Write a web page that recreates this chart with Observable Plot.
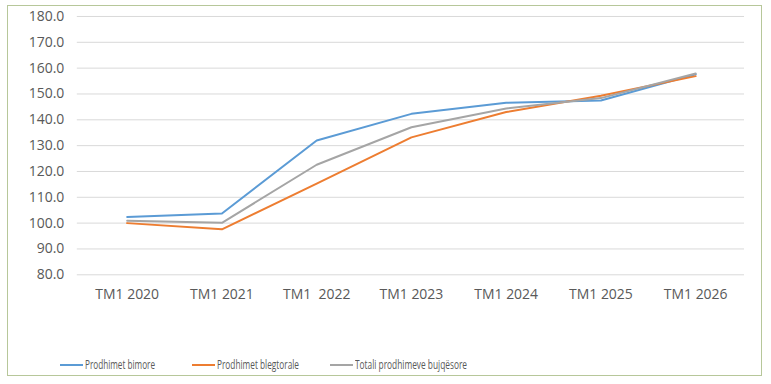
<!DOCTYPE html>
<html>
<head>
<meta charset="utf-8">
<script src="https://cdn.jsdelivr.net/npm/d3@7"></script>
<script src="https://cdn.jsdelivr.net/npm/@observablehq/plot@0.6"></script>
<style>
  body { margin: 0; background: #fff; width: 771px; height: 384px; overflow: hidden; }
  #frame { position: absolute; left: 7px; top: 5px; width: 755px; height: 371px; border: 1px solid #b7c79a; box-sizing: border-box; background: #fff; }
  #chart { position: absolute; left: 0; top: 0; }
  #legend { position: absolute; left: 0; top: 350px; width: 755px; height: 20px; font-family: "Open Sans", sans-serif; font-size: 13px; color: #595959; }
  .item { position: absolute; top: 0; height: 16px; }
  .swatch { position: absolute; left: 0; top: 8px; width: 23px; height: 2px; }
  .label { position: absolute; left: 25px; top: 0; white-space: nowrap; transform-origin: 0 50%; line-height: 16px; }
</style>
</head>
<body>
<div id="frame">
  <div id="chart"></div>
  <div id="legend"></div>
</div>
<script>
const categories = ["TM1 2020", "TM1 2021", "TM1  2022", "TM1 2023", "TM1 2024", "TM1 2025", "TM1 2026"];
const seriesNames = ["Prodhimet bimore", "Prodhimet blegtorale", "Totali prodhimeve bujqësore"];
const bimore = [102.4, 103.7, 132.0, 142.3, 146.6, 147.5, 157.6];
const blegtorale = [100.0, 97.6, 115.3, 133.2, 143.0, 149.3, 156.9];
const totali = [100.9, 100.1, 122.6, 137.1, 144.4, 148.4, 157.9];
const yTicks = [80, 90, 100, 110, 120, 130, 140, 150, 160, 170, 180];
const colors = ["#5b9bd5", "#ed7d31", "#a5a5a5"];

const seriesValues = [bimore, blegtorale, totali];
const data = [];
seriesNames.forEach((s, i) => categories.forEach((c, j) => data.push({series: s, cat: c, value: seriesValues[i][j]})));

const chart = Plot.plot({
  width: 755,
  height: 300,
  marginLeft: 69,
  marginRight: 17,
  marginTop: 10,
  marginBottom: 31,
  style: { fontFamily: "'Open Sans', sans-serif", fontSize: "14px", color: "#595959", background: "transparent" },
  x: { type: "point", domain: categories, padding: 0.5, label: null },
  y: { domain: [80, 180], label: null },
  color: { domain: seriesNames, range: colors },
  marks: [
    Plot.ruleY(yTicks, { stroke: "#d9d9d9", strokeWidth: 1 }),
    Plot.axisY({ ticks: yTicks, tickFormat: d3.format(".1f"), tickSize: 0, tickPadding: 13, label: null, fill: "#595959" }),
    Plot.axisX({ tickSize: 0, tickPadding: 14, label: null, fill: "#595959" }),
    Plot.line(data, { x: "cat", y: "value", z: "series", stroke: "series", strokeWidth: 2 })
  ]
});
document.getElementById("chart").appendChild(chart);

const legend = document.getElementById("legend");
const legendX = [52, 184, 322];
const labelWidths = [70, 82, 112];
seriesNames.forEach((s, i) => {
  const it = document.createElement("div");
  it.className = "item";
  it.style.left = legendX[i] + "px";
  const sw = document.createElement("div");
  sw.className = "swatch";
  sw.style.background = colors[i];
  const t = document.createElement("span");
  t.className = "label";
  t.textContent = s;
  it.appendChild(sw); it.appendChild(t);
  legend.appendChild(it);
  const w = t.getBoundingClientRect().width;
  t.style.transform = `scaleX(${labelWidths[i] / w})`;
});
</script>
</body>
</html>
